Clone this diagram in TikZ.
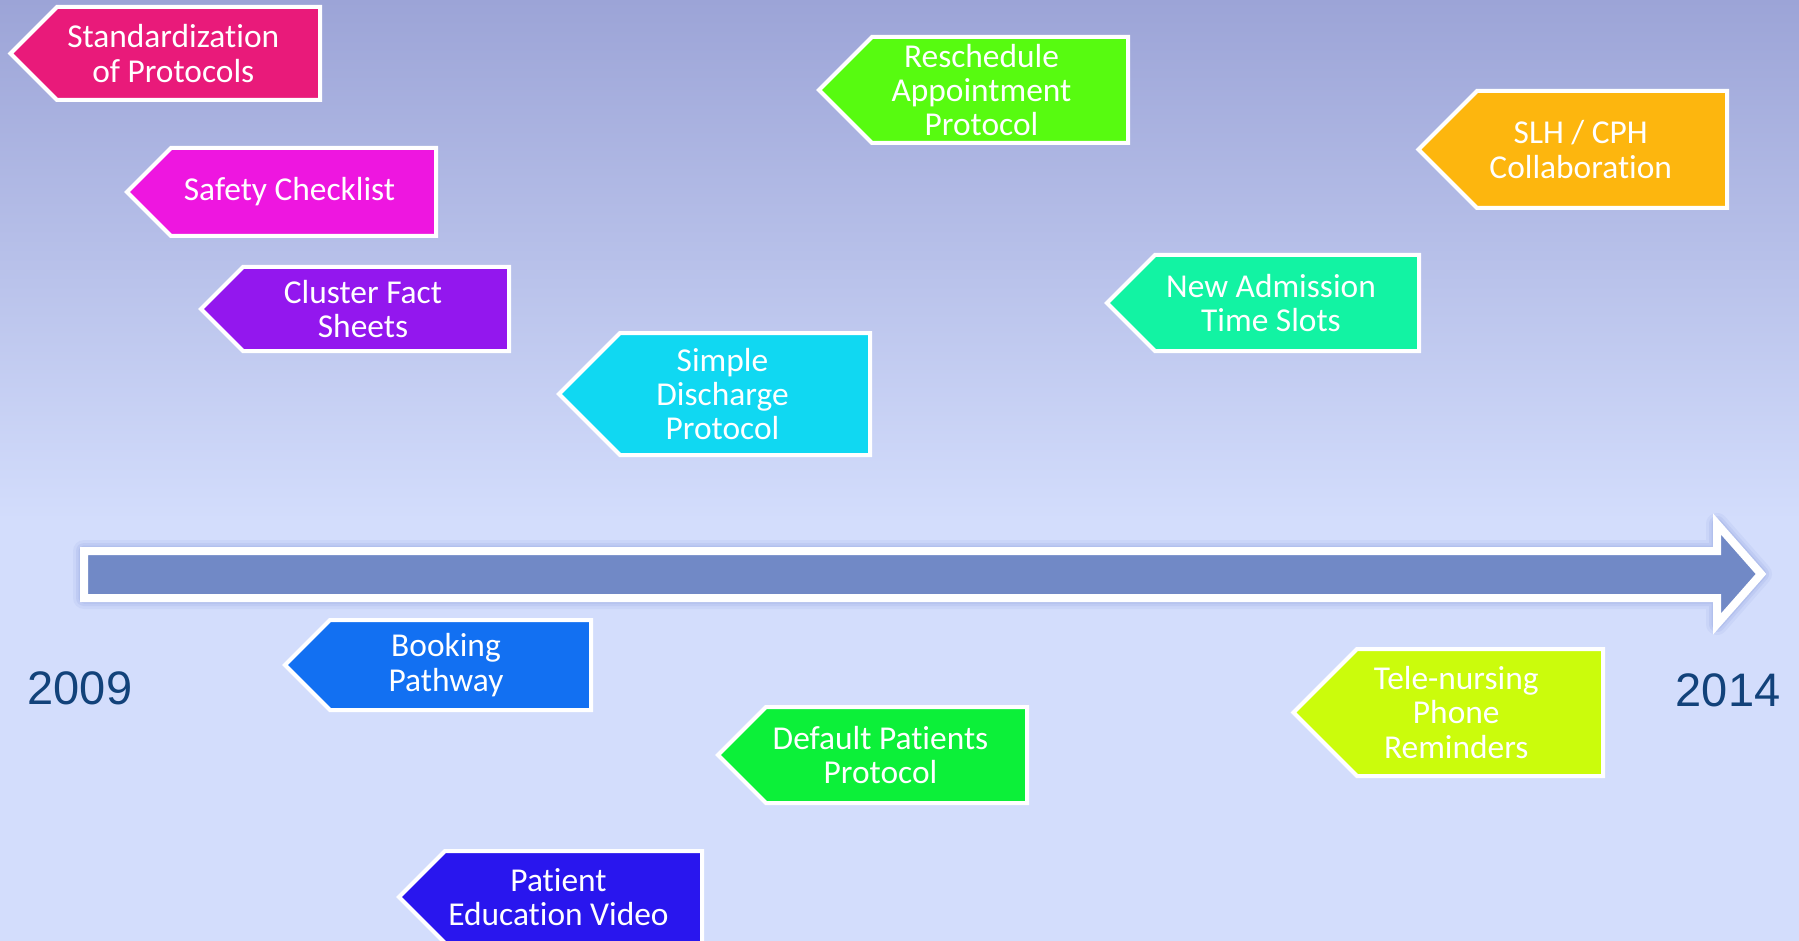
\documentclass[tikz,border=0pt]{standalone}
\usepackage{fontspec}
\setmainfont{Carlito}[Ligatures={NoCommon}]
\newfontfamily\yearfont{Liberation Sans}
\definecolor{bgtop}{RGB}{156,164,215}
\definecolor{bgbottom}{RGB}{211,221,252}
\definecolor{axisblue}{RGB}{113,137,198}
\definecolor{glow}{RGB}{130,150,215}
\definecolor{yearblue}{RGB}{18,66,122}
\definecolor{cStd}{RGB}{233,26,122}
\definecolor{cSafe}{RGB}{238,22,224}
\definecolor{cCluster}{RGB}{147,23,238}
\definecolor{cDischarge}{RGB}{16,216,242}
\definecolor{cResched}{RGB}{87,251,16}
\definecolor{cAdmit}{RGB}{18,243,163}
\definecolor{cSlh}{RGB}{253,182,14}
\definecolor{cBooking}{RGB}{18,112,242}
\definecolor{cDefault}{RGB}{12,240,57}
\definecolor{cTele}{RGB}{203,252,12}
\definecolor{cVideo}{RGB}{41,22,238}
\tikzset{
  tagbox/.style={draw=white, line width=2pt, line join=miter},
  tagtext/.style={text=white, align=center, inner sep=0pt,
    font=\fontsize{16.7}{17.2}\selectfont},
  yearlabel/.style={text=yearblue, inner sep=0pt, font=\yearfont\fontsize{23.5}{28}\selectfont},
}
% #1 name, #2 box left, #3 top, #4 box right, #5 bottom, #6 fill, #7 text
\newcommand{\milestone}[7]{%
  \pgfmathsetmacro\halfh{(#5-#3)/2}%
  \pgfmathsetmacro\midy{(#3+#5)/2}%
  \filldraw[tagbox, fill=#6] (#2,#3) -- (#4,#3) -- (#4,#5) -- (#2,#5)
     -- ({#2-\halfh},\midy) -- cycle;
  \node[tagtext] (#1) at ({(#2-\halfh+#4)/2+8},\midy) {#7};
}
\begin{document}
\begin{tikzpicture}[x=0.5pt,y=-0.5pt]
  % background
  \useasboundingbox (0,0) rectangle (1799,941);
  \fill[bgbottom] (0,0) rectangle (1799,941);
  \shade[top color=bgtop, bottom color=bgbottom] (0,0) rectangle (1799,520);

  % timeline arrow with soft glow
  \coordinate (axisL) at (84,574);
  \coordinate (axisTip) at (1761,574);
  \foreach \w/\o in {22/0.10,16/0.15,11/0.2}{
    \draw[glow, opacity=\o, line width=\w*0.5pt, line join=round]
      (84,551) -- (1717,551) -- (1717,524) -- (axisTip) -- (1717,624)
      -- (1717,598) -- (84,598) -- cycle;
  }
  \filldraw[fill=axisblue, draw=white, line width=4pt, line join=miter]
      (84,551) -- (1717,551) -- (1717,524) -- (axisTip) -- (1717,624)
      -- (1717,598) -- (84,598) -- cycle;

  % year labels
  \node[yearlabel] (y2009) at (80,688) {2009};
  \node[yearlabel] (y2014) at (1728,690) {2014};

  % milestones above the axis
  \milestone{std}{57}{7}{320}{100}{cStd}{Standardization\\of Protocols}
  \milestone{safety}{171}{148}{436}{236}{cSafe}{Safety Checklist}
  \milestone{cluster}{243}{267}{509}{351}{cCluster}{Cluster Fact\\Sheets}
  \milestone{discharge}{620}{333}{870}{455}{cDischarge}{Simple\\Discharge\\Protocol}
  \milestone{resched}{872}{37}{1128}{143}{cResched}{Reschedule\\Appointment\\Protocol}
  \milestone{admit}{1155}{255}{1419}{351}{cAdmit}{New Admission\\Time Slots}
  \milestone{slh}{1477}{91}{1727}{208}{cSlh}{SLH / CPH\\Collaboration}

  % milestones below the axis
  \milestone{booking}{330}{620}{591}{710}{cBooking}{Booking\\Pathway}
  \milestone{default}{766}{707}{1027}{803}{cDefault}{Default Patients\\Protocol}
  \milestone{tele}{1357}{649}{1603}{776}{cTele}{Tele-nursing\\Phone\\Reminders}
  \milestone{video}{445}{851}{702}{943}{cVideo}{Patient\\Education Video}
\end{tikzpicture}
\end{document}
